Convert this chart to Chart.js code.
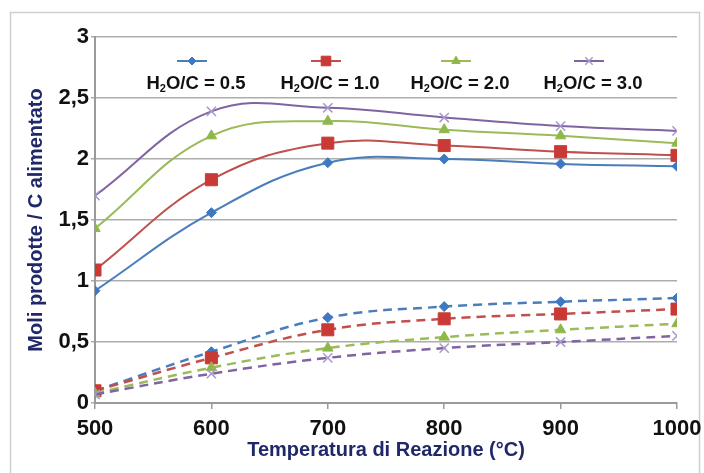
<!DOCTYPE html>
<html><head><meta charset="utf-8">
<script src="https://cdn.jsdelivr.net/npm/chart.js@4/dist/chart.umd.min.js"></script>
<style>html,body{margin:0;padding:0;background:#fff}#wrap{width:704px;height:473px;position:relative}</style>
</head><body><div id="wrap"><canvas id="c" width="704" height="473"></canvas></div>
<script>
const temperatures = [500, 600, 700, 800, 900, 1000];
const ratioLabels = ['0.5', '1.0', '2.0', '3.0'];
// solid curves (upper group)
const solid05 = [0.92, 1.56, 1.97, 2.00, 1.96, 1.94];
const solid10 = [1.09, 1.83, 2.13, 2.11, 2.06, 2.03];
const solid20 = [1.43, 2.19, 2.31, 2.24, 2.19, 2.13];
const solid30 = [1.70, 2.39, 2.42, 2.34, 2.27, 2.23];
// dashed curves (lower group)
const dashed05 = [0.10, 0.42, 0.70, 0.79, 0.83, 0.86];
const dashed10 = [0.10, 0.37, 0.60, 0.69, 0.73, 0.77];
const dashed20 = [0.08, 0.29, 0.45, 0.54, 0.60, 0.65];
const dashed30 = [0.07, 0.24, 0.37, 0.45, 0.50, 0.55];
const yTicks = [0, 0.5, 1, 1.5, 2, 2.5, 3];

const styles = [
  {line:'#4a7ebb', pt:'#3f78c0', shape:'rectRot', r:5},
  {line:'#c0504d', pt:'#c93a36', shape:'rect', r:8.5},
  {line:'#9bbb59', pt:'#8fb84a', shape:'triangle', r:6},
  {line:'#8064a2', pt:'#a898cc', shape:'crossRot', r:6.5}
];
const solidSets = [solid05, solid10, solid20, solid30];
const dashedSets = [dashed05, dashed10, dashed20, dashed30];

function mk(vals, s, dashed, label) {
  return {
    label: label,
    data: temperatures.map((t, i) => ({x: t, y: vals[i]})),
    borderColor: s.line,
    borderWidth: dashed ? 2.5 : 2,
    borderDash: dashed ? [9, 6] : [],
    tension: 0.4,
    pointStyle: s.shape,
    pointRadius: s.r,
    pointBackgroundColor: s.pt,
    pointBorderColor: s.pt,
    pointBorderWidth: s.shape === 'crossRot' ? 1.5 : 1,
    fill: false
  };
}
const datasets = [];
for (let i = 3; i >= 0; i--) datasets.push(mk(dashedSets[i], styles[i], true, 'H2O/C = ' + ratioLabels[i] + ' (dashed)'));
for (let i = 3; i >= 0; i--) datasets.push(mk(solidSets[i], styles[i], false, 'H2O/C = ' + ratioLabels[i]));

const frame = {
  id: 'frame',
  beforeDraw(chart) {
    const ctx = chart.ctx;
    ctx.save();
    ctx.fillStyle = '#fff';
    ctx.fillRect(0, 0, chart.width, chart.height);
    ctx.strokeStyle = '#cfcfcf';
    ctx.lineWidth = 1.5;
    ctx.strokeRect(10.5, 12.5, 689, 480);
    ctx.restore();
  }
};

const legendCx = [196, 330, 460, 593];
const legendPlugin = {
  id: 'customLegend',
  afterDraw(chart) {
    const ctx = chart.ctx;
    ctx.save();
    for (let i = 0; i < 4; i++) {
      const s = styles[i];
      const cx = legendCx[i];
      const my = 61;
      ctx.strokeStyle = s.line;
      ctx.lineWidth = 2;
      ctx.beginPath(); ctx.moveTo(cx - 19, my); ctx.lineTo(cx + 11, my); ctx.stroke();
      ctx.fillStyle = s.pt; ctx.strokeStyle = s.pt; ctx.lineWidth = s.shape === 'crossRot' ? 1.5 : 1;
      Chart.helpers.drawPoint(ctx, {pointStyle: s.shape, radius: s.r * 0.8, borderWidth: 1}, cx - 4, my);
      // text with subscript
      const big = 'bold 18.5px "Liberation Sans", Arial, sans-serif';
      const small = 'bold 11px "Liberation Sans", Arial, sans-serif';
      const rest = 'O/C = ' + ratioLabels[i];
      ctx.font = big; const wH = ctx.measureText('H').width; const wR = ctx.measureText(rest).width;
      ctx.font = small; const w2 = ctx.measureText('2').width;
      let x = cx - (wH + w2 + wR) / 2;
      const by = 89;
      ctx.fillStyle = '#111'; ctx.textBaseline = 'alphabetic'; ctx.textAlign = 'left';
      ctx.font = big; ctx.fillText('H', x, by); x += wH;
      ctx.font = small; ctx.fillText('2', x, by + 3); x += w2;
      ctx.font = big; ctx.fillText(rest, x, by);
    }
    ctx.restore();
  }
};

new Chart(document.getElementById('c'), {
  type: 'line',
  data: {datasets},
  plugins: [frame, legendPlugin],
  options: {
    responsive: false,
    animation: false,
    layout: {padding: {left: 0, top: 37, right: 27, bottom: 0}},
    plugins: {legend: {display: false}, tooltip: {enabled: false}},
    scales: {
      x: {
        type: 'linear', min: 500, max: 1000,
        afterFit(s) { s.height = 70; s.paddingRight = 0; s.paddingLeft = 0; },
        afterBuildTicks(s) { s.ticks = temperatures.map(v => ({value: v})); },
        grid: {drawOnChartArea: false, drawTicks: true, tickLength: 6, color: '#9a9a9a', lineWidth: 1.5},
        border: {color: '#9a9a9a', width: 2},
        ticks: {color: '#111', font: {family: '"Liberation Sans", Arial, sans-serif', size: 22, weight: 'bold'}, padding: 7, maxRotation: 0,
          callback: v => String(v)},
        title: {display: true, text: 'Temperatura di Reazione (°C)', color: '#20286a', font: {family: '"Liberation Sans", Arial, sans-serif', size: 20, weight: 'bold'}, padding: {top: 0, bottom: 11}}
      },
      y: {
        min: 0, max: 3,
        afterFit(s) { s.width = 95; s.paddingTop = 0; s.paddingBottom = 0; },
        afterBuildTicks(s) { s.ticks = yTicks.map(v => ({value: v})); },
        grid: {color: '#adadad', lineWidth: 1.5, drawTicks: true, tickLength: 4},
        border: {color: '#9a9a9a', width: 2},
        ticks: {color: '#111', padding: 2, font: {family: '"Liberation Sans", Arial, sans-serif', size: 22, weight: 'bold'},
          callback: v => String(v).replace('.', ',')},
        title: {display: true, text: 'Moli prodotte / C alimentato', color: '#20286a', font: {family: '"Liberation Sans", Arial, sans-serif', size: 20, weight: 'bold'}, padding: {top: 24, bottom: 0}}
      }
    }
  }
});
</script></body></html>
